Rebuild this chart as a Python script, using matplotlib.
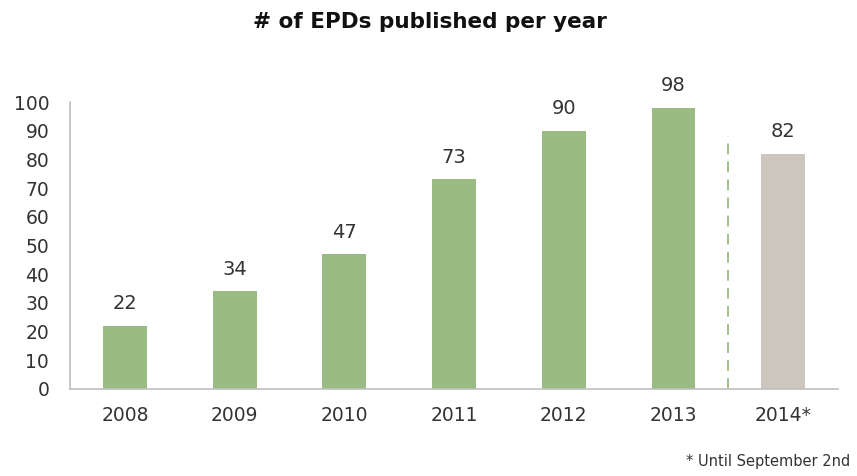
import matplotlib.pyplot as plt

years = ["2008", "2009", "2010", "2011", "2012", "2013", "2014*"]
epds = [22, 34, 47, 73, 90, 98, 82]
bar_colors = ["#9bbb84"] * 6 + ["#cdc6bf"]

plt.rcParams["font.family"] = "DejaVu Sans"

fig = plt.figure(figsize=(8.57, 4.76), dpi=100)
ax = fig.add_axes([0.0817, 0.1828, 0.8963, 0.6029])

x = range(len(years))
bars = ax.bar(x, epds, width=0.4, color=bar_colors)

for bar, value in zip(bars, epds):
    ax.annotate(
        str(value),
        (bar.get_x() + bar.get_width() / 2, value),
        xytext=(0, 9),
        textcoords="offset points",
        ha="center",
        va="bottom",
        fontsize=14,
        color="#333333",
    )

# separator between complete years and the partial 2014
ax.plot([5.5, 5.5], [0, 88], color="#9bbb84", linestyle=(0, (6, 4)), linewidth=1.3)

ax.set_xlim(-0.5, 6.5)
ax.set_ylim(0, 100)
ax.set_yticks(range(0, 101, 10))
ax.set_xticks(list(x))
ax.set_xticklabels(years)
ax.tick_params(axis="both", length=0, labelsize=13.5, colors="#333333")
ax.tick_params(axis="x", pad=12)
ax.tick_params(axis="y", pad=15)

for side in ["top", "right"]:
    ax.spines[side].set_visible(False)
for side in ["left", "bottom"]:
    ax.spines[side].set_color("#bfbfbf")
    ax.spines[side].set_linewidth(1.2)

fig.text(0.502, 0.953, "# of EPDs published per year", ha="center", va="center",
         fontsize=15.5, fontweight="bold", color="#111111")
fig.text(0.992, 0.03, "* Until September 2nd", ha="right", va="center",
         fontsize=10.5, color="#333333")

fig.savefig("out.png", dpi=100)
